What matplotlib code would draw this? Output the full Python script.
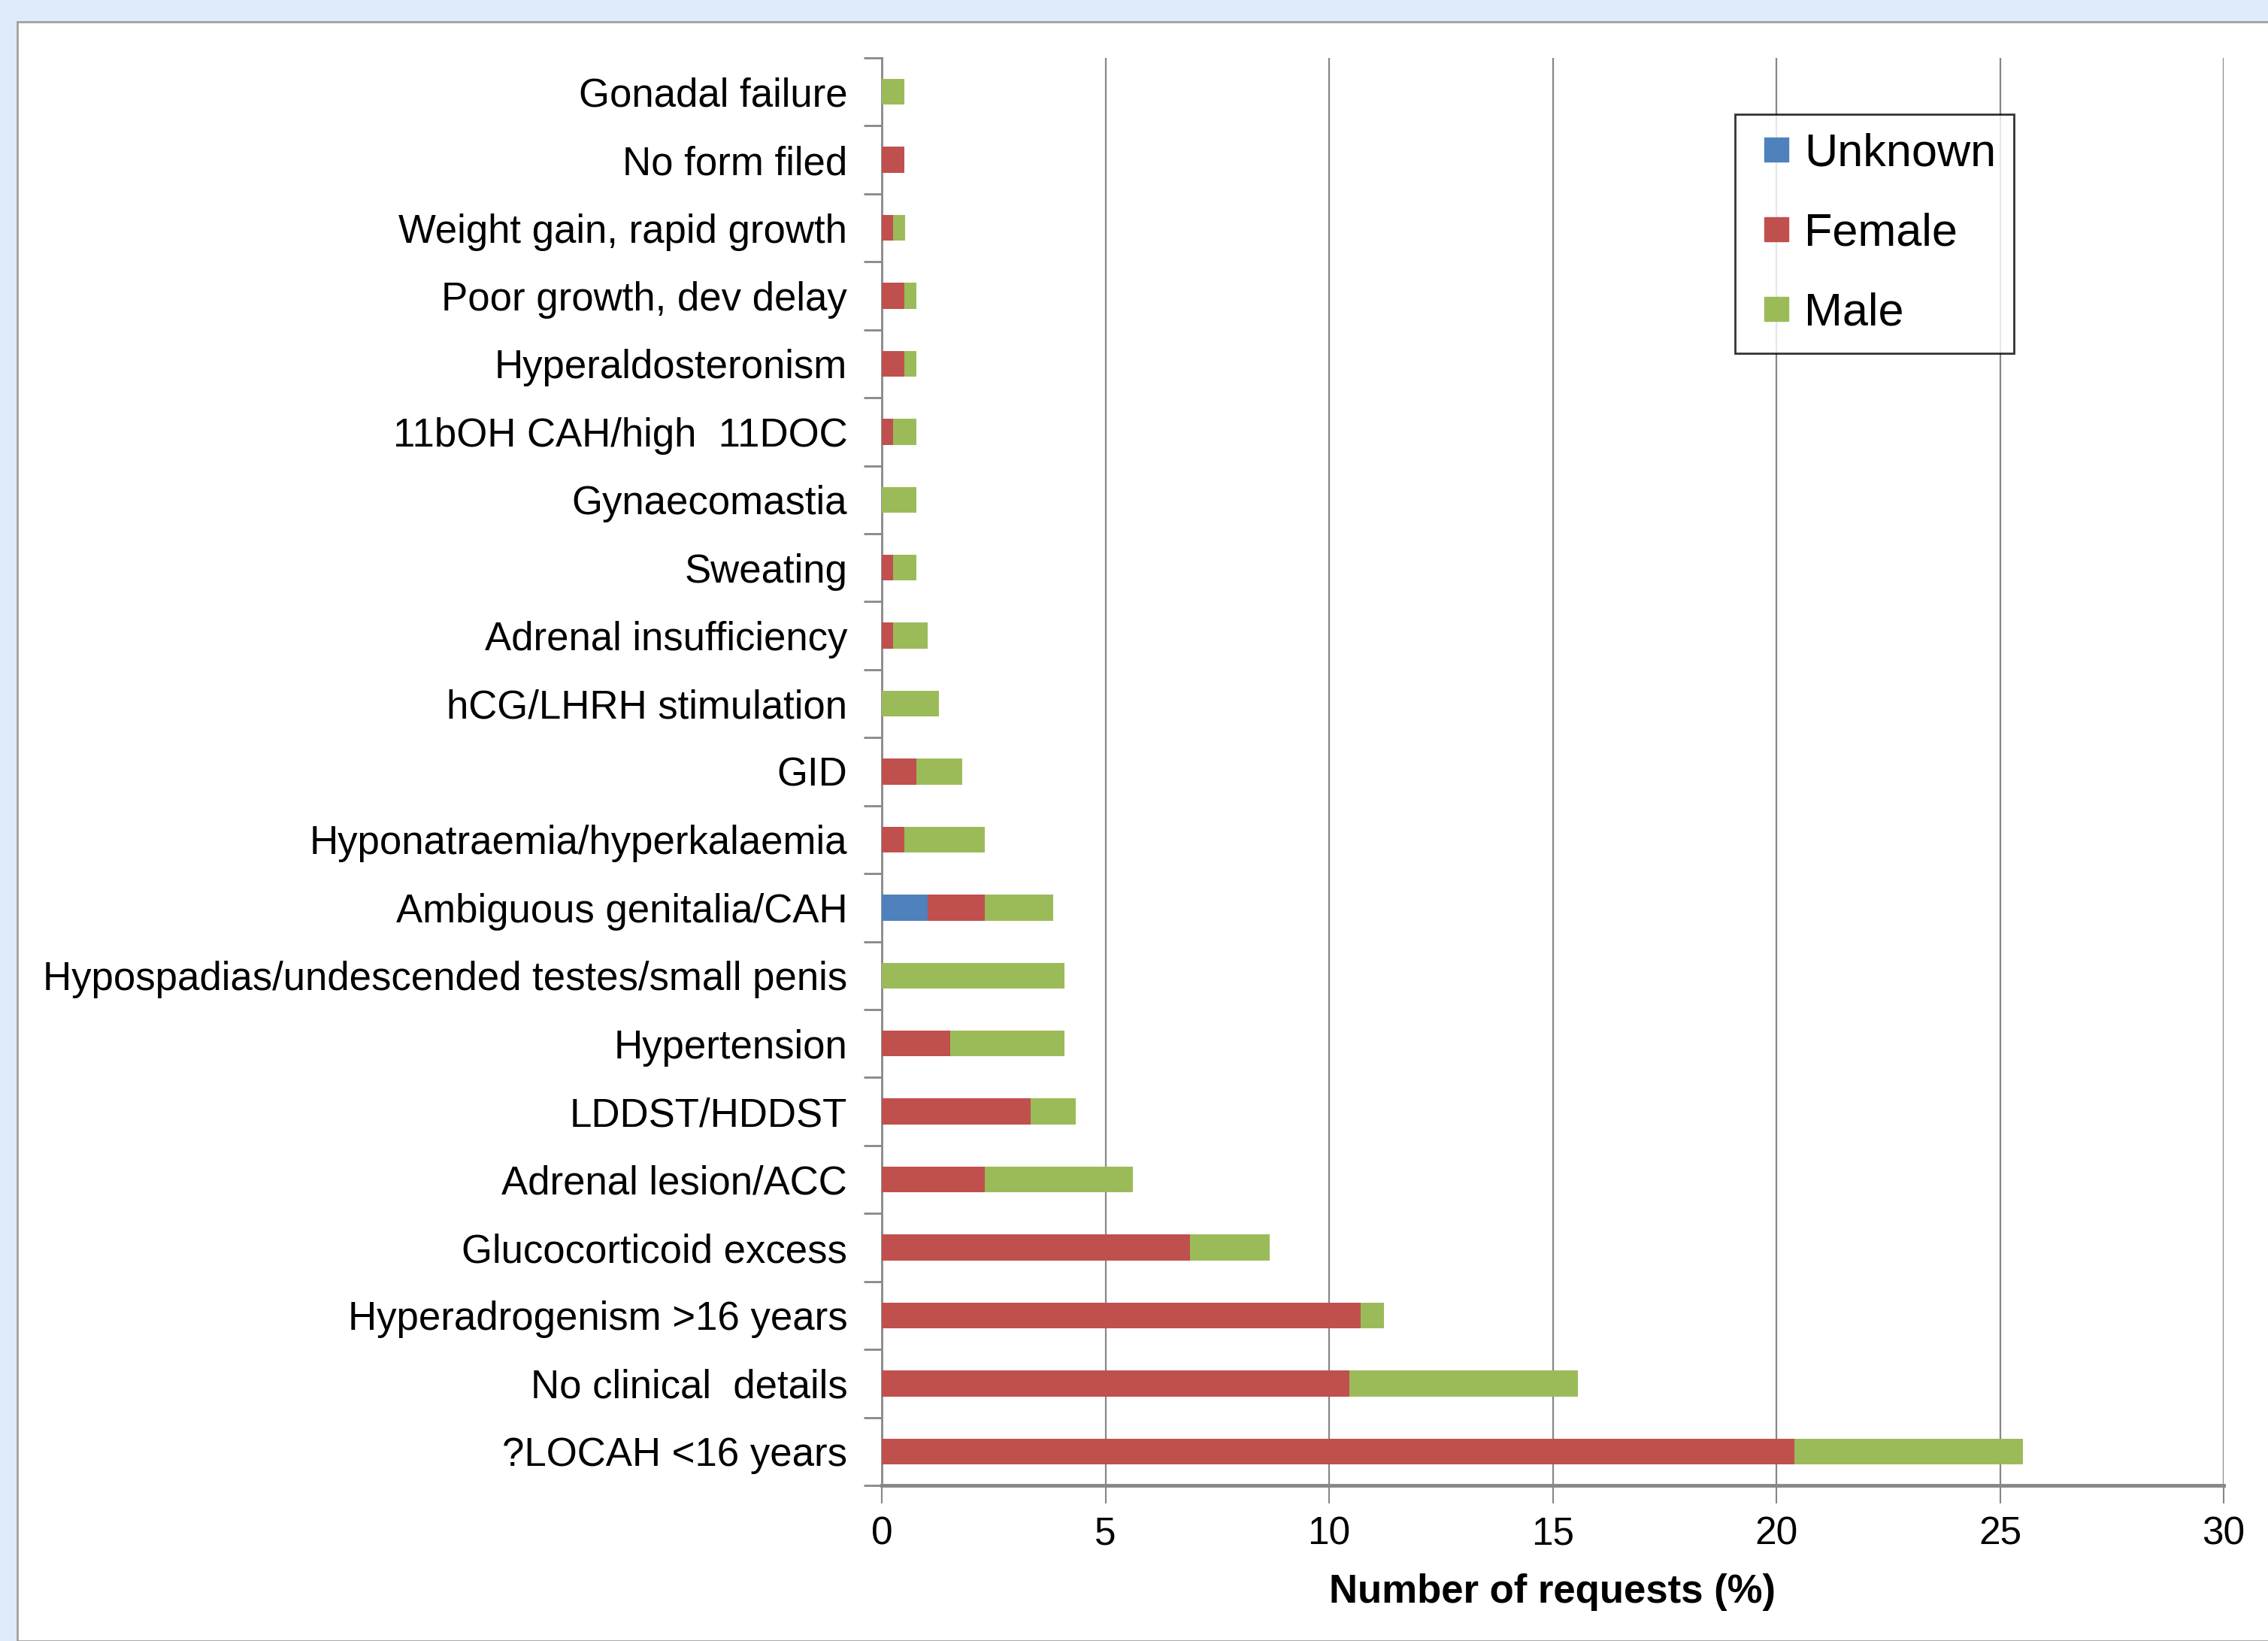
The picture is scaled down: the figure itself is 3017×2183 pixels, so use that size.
import numpy as np
import matplotlib
matplotlib.use('Agg')
import matplotlib.pyplot as plt
from matplotlib.patches import Rectangle
from matplotlib.lines import Line2D

plt.rcParams['font.family'] = ['Liberation Sans', 'DejaVu Sans']

# categories listed from top to bottom
categories = ['Gonadal failure', 'No form filed', 'Weight gain, rapid growth',
              'Poor growth, dev delay', 'Hyperaldosteronism', '11bOH CAH/high  11DOC',
              'Gynaecomastia', 'Sweating', 'Adrenal insufficiency', 'hCG/LHRH stimulation',
              'GID', 'Hyponatraemia/hyperkalaemia', 'Ambiguous genitalia/CAH',
              'Hypospadias/undescended testes/small penis', 'Hypertension', 'LDDST/HDDST',
              'Adrenal lesion/ACC', 'Glucocorticoid excess', 'Hyperadrogenism >16 years',
              'No clinical  details', '?LOCAH <16 years']
unknown = [0, 0, 0, 0, 0, 0, 0, 0, 0, 0, 0, 0, 1.02, 0, 0, 0, 0, 0, 0, 0, 0]
female = [0, 0.51, 0.26, 0.51, 0.51, 0.26, 0, 0.26, 0.26, 0, 0.77, 0.51, 1.28, 0,
          1.53, 3.32, 2.30, 6.89, 10.71, 10.46, 20.41]
male = [0.51, 0, 0.26, 0.26, 0.26, 0.51, 0.77, 0.51, 0.77, 1.28, 1.02, 1.79, 1.53, 4.08,
        2.55, 1.02, 3.32, 1.79, 0.51, 5.10, 5.10]
xticks = [0, 5, 10, 15, 20, 25, 30]

c_unknown = '#4F81BD'
c_female = '#C0504D'
c_male = '#9BBB59'
grid_c = '#878787'

W, H = 3017, 2183
fig = plt.figure(figsize=(W / 100, H / 100), dpi=100, facecolor='#DFEBFB')
# white chart panel behind the axes
fig.patches.append(Rectangle((23 / W, 0), 1, 1 - 29 / H, transform=fig.transFigure,
                             facecolor='white', edgecolor='#A0A0A0', linewidth=2, zorder=-5))

ax = fig.add_axes([1173 / W, 1 - 1976 / H, (2958 - 1173) / W, (1976 - 77) / H])
ax.set_zorder(2)
ax.set_facecolor('none')

n = len(categories)
y = np.arange(n)[::-1]
u = np.array(unknown)
f = np.array(female)
m = np.array(male)
h = 0.38
ax.barh(y, u, height=h, color=c_unknown, zorder=3)
ax.barh(y, f, left=u, height=h, color=c_female, zorder=3)
ax.barh(y, m, left=u + f, height=h, color=c_male, zorder=3)

ax.set_xlim(0, 30)
ax.set_ylim(-0.5, n - 0.5)
ax.set_xticks(xticks)
ax.set_xticklabels([str(t) for t in xticks], fontsize=37)
ax.set_yticks(y)
ax.set_yticklabels(categories, fontsize=38)
ax.set_yticks(np.arange(-0.5, n), minor=True)
ax.tick_params(axis='y', which='major', length=0, pad=33)
ax.tick_params(axis='y', which='minor', length=17, width=2, color=grid_c, direction='out')
ax.tick_params(axis='x', length=17, width=1.5, color=grid_c, pad=12)

for t in xticks[1:]:
    ax.axvline(t, color=grid_c, linewidth=1.6, zorder=1)

for s in ['top', 'right']:
    ax.spines[s].set_visible(False)
ax.spines['left'].set_color(grid_c)
ax.spines['left'].set_linewidth(2)
ax.spines['bottom'].set_color(grid_c)
ax.spines['bottom'].set_linewidth(3.5)

ax.set_xlabel('Number of requests (%)', fontsize=38, fontweight='bold', labelpad=20)

# square legend keys
handles = [Line2D([], [], linestyle='none', marker='s', markersize=23,
                  markerfacecolor=c, markeredgecolor=c)
           for c in (c_unknown, c_female, c_male)]
leg = ax.legend(handles, ['Unknown', 'Female', 'Male'], loc='upper left',
                bbox_to_anchor=(0.636, 0.9605), fontsize=44,
                frameon=True, fancybox=False, edgecolor='black', handlelength=1.0,
                handletextpad=0.1, labelspacing=0.8,
                borderpad=0.4, borderaxespad=0)
leg.get_frame().set_linewidth(2)

fig.savefig('out.png', dpi=100, facecolor=fig.get_facecolor())
